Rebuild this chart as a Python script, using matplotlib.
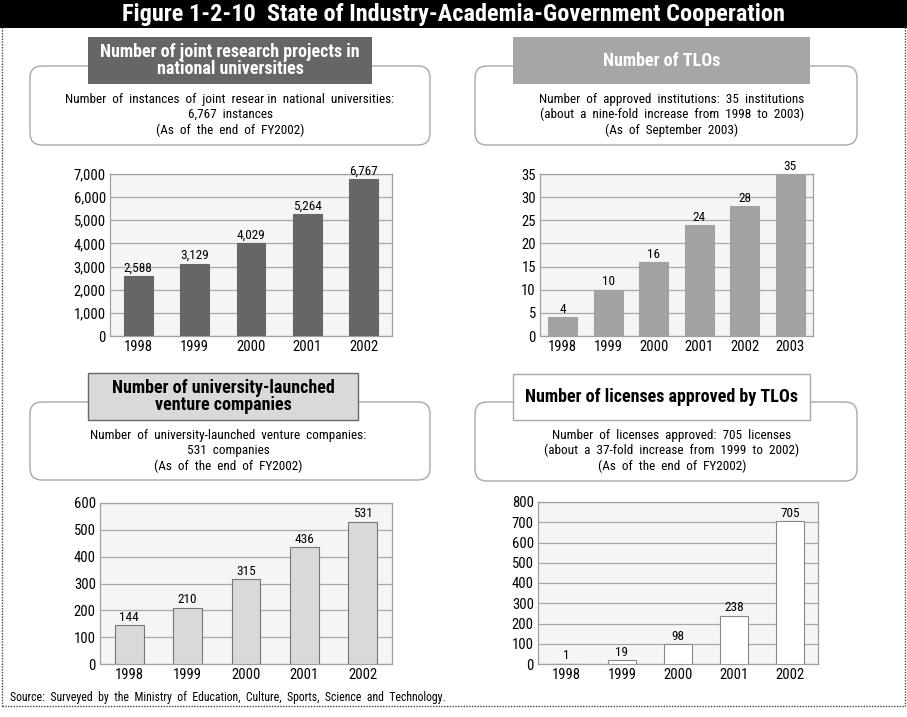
import matplotlib
matplotlib.use("Agg")
import matplotlib.pyplot as plt
from matplotlib.patches import FancyBboxPatch, Rectangle
from matplotlib.ticker import FuncFormatter

W, H = 907, 717
FONT = ['Roboto Condensed', 'DejaVu Sans']
plt.rcParams['font.family'] = FONT

# ---------------- data ----------------
joint_years = ['1998', '1999', '2000', '2001', '2002']
joint_values = [2588, 3129, 4029, 5264, 6767]

tlo_years = ['1998', '1999', '2000', '2001', '2002', '2003']
tlo_values = [4, 10, 16, 24, 28, 35]

venture_years = ['1998', '1999', '2000', '2001', '2002']
venture_values = [144, 210, 315, 436, 531]

license_years = ['1998', '1999', '2000', '2001', '2002']
license_values = [1, 19, 98, 238, 705]

title = "Figure 1-2-10  State of Industry-Academia-Government Cooperation"
source = "Source:  Surveyed  by  the  Ministry  of  Education,  Culture,  Sports,  Science  and  Technology."

fig = plt.figure(figsize=(W / 100, H / 100), dpi=100)
fig.patch.set_facecolor('white')

# overlay axes in pixel coordinates
ov = fig.add_axes([0, 0, 1, 1], zorder=0)
ov.set_xlim(0, W)
ov.set_ylim(H, 0)
ov.axis('off')

# title bar
ov.add_patch(Rectangle((0, 0), W, 27.5, facecolor='black', edgecolor='none'))
ov.text(W / 2, 14, title, color='white', fontsize=17.5, fontweight='bold',
        ha='center', va='center')
# dotted outer frame
ov.plot([1.5, 1.5], [27, 706], color='#444444', lw=1, ls=(0, (1, 1)))
ov.plot([904.5, 904.5], [27, 706], color='#444444', lw=1, ls=(0, (1, 1)))
ov.plot([1.5, 904.5], [706, 706], color='#444444', lw=1, ls=(0, (1, 1)))


def panel(box, header, htext, hface, hedge, hcolor, desc, dcx, dy0):
    l, t, r, b = box
    ov.add_patch(FancyBboxPatch((l, t), r - l, b - t,
                                boxstyle="round,pad=0,rounding_size=12",
                                facecolor='white', edgecolor='#a8a8a8', lw=1))
    hl, ht, hr, hb = header
    ov.add_patch(Rectangle((hl, ht), hr - hl, hb - ht, facecolor=hface,
                           edgecolor=hedge, lw=1 if hedge != 'none' else 0))
    ov.text((hl + hr) / 2, (ht + hb) / 2, htext, color=hcolor, fontsize=13,
            fontweight='bold', ha='center', va='center', linespacing=0.95)
    for i, line in enumerate(desc):
        ov.text(dcx, dy0 + i * 15.5, line, fontsize=9.5, ha='center', va='center')


panel((30, 66, 430, 145), (88, 37, 372, 84),
      "Number of joint research projects in\nnational universities",
      '#666666', 'none', 'white',
      ["Number  of  instances  of  joint  resear in  national  universities:",
       "6,767  instances", "(As  of  the  end  of  FY2002)"], 230, 99)

panel((475, 66, 857, 145), (513, 37, 810, 84), "Number of TLOs",
      '#a6a6a6', 'none', 'white',
      ["Number  of  approved  institutions:  35  institutions",
       "(about  a  nine-fold  increase  from  1998  to  2003)",
       "(As  of  September  2003)"], 672, 99)

panel((30, 402, 430, 480), (88, 373, 358, 420),
      "Number of university-launched\nventure companies",
      '#d9d9d9', '#666666', 'black',
      ["Number  of  university-launched  venture  companies:",
       "531  companies", "(As  of  the  end  of  FY2002)"], 228, 435)

panel((475, 402, 857, 481), (513, 374, 810, 420),
      "Number of licenses approved by TLOs",
      'white', '#a8a8a8', 'black',
      ["Number  of  licenses  approved:  705  licenses",
       "(about  a  37-fold  increase  from  1999  to  2002)",
       "(As  of  the  end  of  FY2002)"], 672, 435)

ov.text(10, 697, source, fontsize=8.5, ha='left', va='center')


def chart(rect, cats, vals, ymax, step, color, edge, width, comma):
    l, t, r, b = rect
    ax = fig.add_axes([l / W, 1 - b / H, (r - l) / W, (b - t) / H], zorder=2)
    ax.set_facecolor('#f5f5f5')
    x = list(range(len(cats)))
    bars = ax.bar(x, vals, width=width, color=color, edgecolor=edge,
                  linewidth=0.8, zorder=3)
    ax.set_xlim(-0.5, len(cats) - 0.5)
    ax.set_ylim(0, ymax)
    ax.set_yticks(range(0, ymax + 1, step))
    if comma:
        ax.yaxis.set_major_formatter(FuncFormatter(lambda v, p: f"{int(v):,}"))
    ax.set_xticks(x)
    ax.set_xticklabels(cats)
    ax.tick_params(length=0, labelsize=10.5, pad=3)
    ax.grid(axis='y', color='#a8a8a8', lw=0.9, zorder=1)
    for s in ax.spines.values():
        s.set_color('#a0a0a0')
        s.set_linewidth(0.9)
    labels = [f"{v:,}" if comma else str(v) for v in vals]
    ax.bar_label(bars, labels=labels, padding=1, fontsize=9.5, clip_on=False)
    return ax


chart((110, 174, 392, 336), joint_years, joint_values, 7000, 1000,
      '#666666', '#666666', 0.51, True)
chart((540, 174, 813, 336), tlo_years, tlo_values, 35, 5,
      '#a2a2a2', '#a2a2a2', 0.63, False)
chart((100, 503, 392, 664), venture_years, venture_values, 600, 100,
      '#d9d9d9', '#777777', 0.49, False)
chart((538, 502, 818, 664), license_years, license_values, 800, 100,
      'white', '#888888', 0.5, False)

fig.savefig('out.png', dpi=100, facecolor='white')
